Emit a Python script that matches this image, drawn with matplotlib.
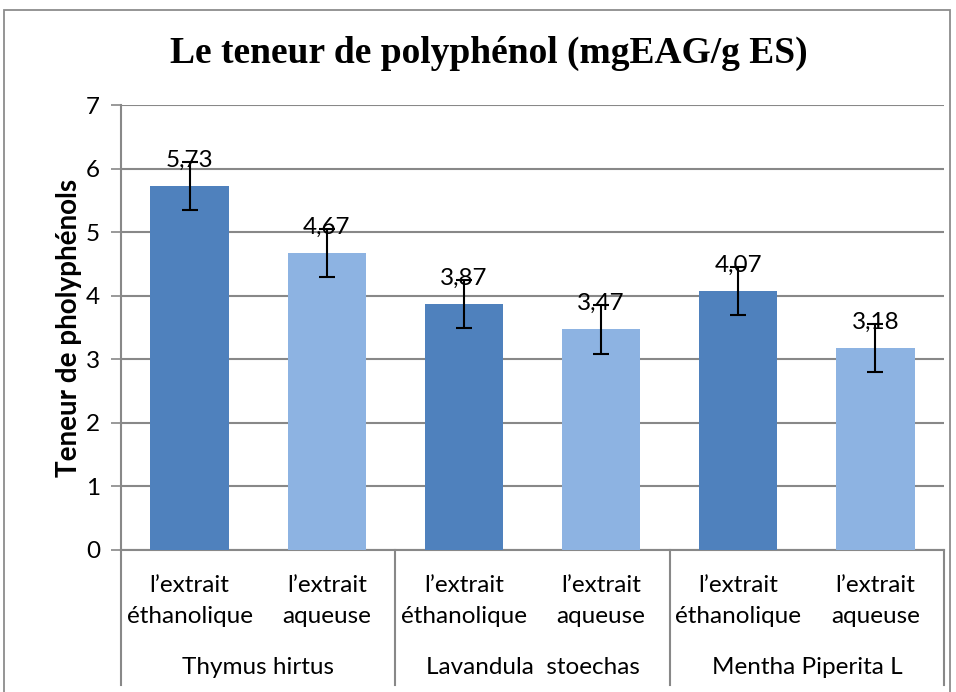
import matplotlib.pyplot as plt
from matplotlib.lines import Line2D
from matplotlib.patches import Rectangle
from matplotlib.transforms import blended_transform_factory

# data
plants = ["Thymus hirtus", "Lavandula  stoechas", "Mentha Piperita L"]
extracts = ["l\u2019extrait\n\u00e9thanolique", "l\u2019extrait\naqueuse"]
values = [5.73, 4.67, 3.87, 3.47, 4.07, 3.18]
errors = [0.38, 0.38, 0.38, 0.38, 0.38, 0.38]
labels = ["5,73", "4,67", "3,87", "3,47", "4,07", "3,18"]
colors = ["#4F81BD", "#8DB3E2"]

sans = ["Lato", "DejaVu Sans"]
grid_col = "#888888"
fs = 17.5

fig = plt.figure(figsize=(9.56, 6.92), dpi=100)
ax = fig.add_axes([121 / 956, 1 - 550 / 692, 823 / 956, 445 / 692])

# outer chart frame
fig.patches.append(Rectangle((4 / 956, -0.01), 946 / 956, 1 - 10 / 692 + 0.01,
                             transform=fig.transFigure, fill=False,
                             edgecolor="#8c8c8c", linewidth=1.3))

x = list(range(len(values)))
bar_colors = [colors[i % 2] for i in x]
ax.bar(x, values, width=0.57, color=bar_colors, zorder=3)
ax.errorbar(x, values, yerr=errors, fmt="none", ecolor="black",
            elinewidth=1.5, capsize=6, capthick=1.5, zorder=4)
for xi, v, lab in zip(x, values, labels):
    ax.text(xi, v + 0.24, lab, ha="center", va="bottom", fontsize=fs,
            family=sans, zorder=5)

ax.set_xlim(-0.5, 5.5)
ax.set_ylim(0, 7)
ax.set_yticks(range(8))
ax.yaxis.grid(True, color=grid_col, linewidth=1.5, zorder=0)
ax.set_xticks([])
ax.tick_params(axis="y", length=7, width=1.2, color=grid_col,
               labelsize=fs, pad=8)
for t in ax.get_yticklabels():
    t.set_family(sans)
for s in ["top", "right"]:
    ax.spines[s].set_visible(False)
for s in ["left", "bottom"]:
    ax.spines[s].set_color(grid_col)
    ax.spines[s].set_linewidth(1.5)

# multi-level category axis
trans = blended_transform_factory(ax.transData, ax.transAxes)
depth = -(685 - 550) / 445
for xb in [-0.5, 1.5, 3.5, 5.5]:
    ax.add_line(Line2D([xb, xb], [0, depth], transform=trans, color=grid_col,
                       linewidth=1.5, clip_on=False))
for xi in x:
    ax.text(xi, -(601 - 550) / 445, extracts[xi % 2], transform=trans,
            ha="center", va="center", fontsize=fs, family=sans,
            linespacing=1.55)
for gi, name in enumerate(plants):
    ax.text(2 * gi + 0.5, -(667 - 550) / 445, name, transform=trans,
            ha="center", va="center", fontsize=fs, family=sans)

ax.set_ylabel("Teneur de pholyph\u00e9nols", fontsize=20, fontweight="bold",
              family=sans, labelpad=3)
fig.text(489 / 956, 1 - 53 / 692, "Le teneur de polyph\u00e9nol (mgEAG/g ES)",
         ha="center", va="center", fontsize=27, fontweight="bold",
         family="Liberation Serif")

fig.savefig("out.png", dpi=100)
